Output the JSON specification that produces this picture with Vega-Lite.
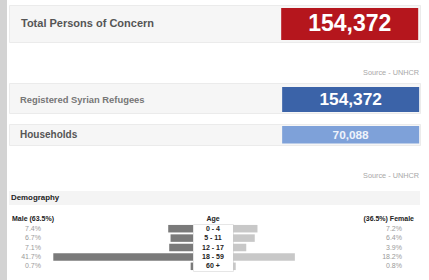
{
  "$schema": "https://vega.github.io/schema/vega-lite/v6.json",
  "background": "white",
  "padding": 0,
  "spacing": 2,
  "bounds": "flush",
  "config": {"view": {"stroke": null}, "font": "Liberation Sans", "text": {"font": "Liberation Sans"}},
  "datasets": {
    "kpi": [
      {"metric": "Total Persons of Concern", "value": 154372},
      {"metric": "Registered Syrian Refugees", "value": 154372},
      {"metric": "Households", "value": 70088}
    ],
    "source": [{"label": "Source - UNHCR"}],
    "section": [{"label": "Demography"}],
    "column": [{"label": "Age"}],
    "totals": [{"sex": "Male", "share": 0.635}, {"sex": "Female", "share": 0.365}],
    "demography": [
      {"age": "0 - 4", "sex": "Male", "share": 0.074},
      {"age": "5 - 11", "sex": "Male", "share": 0.067},
      {"age": "12 - 17", "sex": "Male", "share": 0.071},
      {"age": "18 - 59", "sex": "Male", "share": 0.417},
      {"age": "60 +", "sex": "Male", "share": 0.007},
      {"age": "0 - 4", "sex": "Female", "share": 0.072},
      {"age": "5 - 11", "sex": "Female", "share": 0.064},
      {"age": "12 - 17", "sex": "Female", "share": 0.039},
      {"age": "18 - 59", "sex": "Female", "share": 0.182},
      {"age": "60 +", "sex": "Female", "share": 0.008}
    ]
  },
  "hconcat": [
    {"width": 7, "height": 280, "view": {"fill": "#d3d3d3"}, "data": {"values": []}, "mark": "point"},
    {
      "spacing": 0,
      "bounds": "flush",
      "vconcat": [
        {"width": 1, "height": 5, "data": {"values": []}, "mark": "point"},
        {
          "width": 411, "height": 37,
          "data": {"name": "kpi"},
          "transform": [{"filter": "datum.metric == 'Total Persons of Concern'"}],
          "view": {"fill": "#f6f6f6", "stroke": "#ebebeb"},
          "layer": [
            {"mark": {"type": "rect", "color": "#b5161d"},
             "encoding": {
               "x": {"field": "metric", "type": "nominal", "axis": null, "scale": {"type": "band", "paddingInner": 0, "paddingOuter": 1.3853, "align": 0.9934}},
               "y": {"field": "metric", "type": "nominal", "axis": null, "scale": {"type": "band", "paddingInner": 0, "paddingOuter": 0.078, "align": 0.6}}}},
            {"mark": {"type": "text", "color": "#ffffff", "fontSize": 23, "fontWeight": "bold"},
             "encoding": {
               "x": {"field": "metric", "type": "nominal", "axis": null, "scale": {"type": "band", "paddingInner": 0, "paddingOuter": 1.3853, "align": 0.9934}},
               "y": {"field": "metric", "type": "nominal", "axis": null, "scale": {"type": "band", "paddingInner": 0, "paddingOuter": 0.078, "align": 0.6}},
               "text": {"field": "value", "type": "quantitative", "format": ","}}},
            {"mark": {"type": "text", "align": "left", "dx": 12, "fontSize": 11, "fontWeight": "bold", "color": "#555555"},
             "encoding": {
               "x": {"field": "metric", "type": "nominal", "axis": null, "scale": {"type": "point", "padding": 0, "align": 0}},
               "y": {"field": "metric", "type": "nominal", "axis": null, "scale": {"type": "band", "paddingInner": 0, "paddingOuter": 0.078, "align": 0.6}},
               "text": {"field": "metric"}}}
          ],
          "resolve": {"scale": {"x": "independent"}}
        },
        {"width": 1, "height": 21, "data": {"values": []}, "mark": "point"},
        {
          "width": 411, "height": 20,
          "data": {"name": "source"},
          "mark": {"type": "text", "align": "right", "dx": -1, "fontSize": 7.3, "color": "#a8a8a8"},
          "encoding": {
            "x": {"field": "label", "type": "nominal", "axis": null, "scale": {"type": "point", "padding": 0, "align": 1}},
            "text": {"field": "label"}}
        },
        {
          "width": 411, "height": 30,
          "data": {"name": "kpi"},
          "transform": [{"filter": "datum.metric == 'Registered Syrian Refugees'"}],
          "view": {"fill": "#f6f6f6", "stroke": "#ebebeb"},
          "layer": [
            {"mark": {"type": "rect", "color": "#3b63a8"},
             "encoding": {
               "x": {"field": "metric", "type": "nominal", "axis": null, "scale": {"type": "band", "paddingInner": 0, "paddingOuter": 1.835, "align": 0.9969}},
               "y": {"field": "metric", "type": "nominal", "axis": null, "scale": {"type": "band", "paddingInner": 0, "paddingOuter": 0.1, "align": 0.8}}}},
            {"mark": {"type": "text", "color": "#ffffff", "fontSize": 17.3, "fontWeight": "bold"},
             "encoding": {
               "x": {"field": "metric", "type": "nominal", "axis": null, "scale": {"type": "band", "paddingInner": 0, "paddingOuter": 1.835, "align": 0.9969}},
               "y": {"field": "metric", "type": "nominal", "axis": null, "scale": {"type": "band", "paddingInner": 0, "paddingOuter": 0.1, "align": 0.8}},
               "text": {"field": "value", "type": "quantitative", "format": ","}}},
            {"mark": {"type": "text", "align": "left", "dx": 11, "fontSize": 9.4, "fontWeight": "bold", "color": "#777777"},
             "encoding": {
               "x": {"field": "metric", "type": "nominal", "axis": null, "scale": {"type": "point", "padding": 0, "align": 0}},
               "y": {"field": "metric", "type": "nominal", "axis": null, "scale": {"type": "band", "paddingInner": 0, "paddingOuter": 0.1, "align": 0.8}},
               "text": {"field": "metric"}}}
          ],
          "resolve": {"scale": {"x": "independent"}}
        },
        {"width": 1, "height": 11, "data": {"values": []}, "mark": "point"},
        {
          "width": 411, "height": 21,
          "data": {"name": "kpi"},
          "transform": [{"filter": "datum.metric == 'Households'"}],
          "view": {"fill": "#f6f6f6", "stroke": "#ebebeb"},
          "layer": [
            {"mark": {"type": "rect", "color": "#7ea1d9"},
             "encoding": {
               "x": {"field": "metric", "type": "nominal", "axis": null, "scale": {"type": "band", "paddingInner": 0, "paddingOuter": 1.835, "align": 0.9969}},
               "y": {"field": "metric", "type": "nominal", "axis": null, "scale": {"type": "band", "paddingInner": 0, "paddingOuter": 0.1, "align": 0.57}}}},
            {"mark": {"type": "text", "color": "#eef3fb", "fontSize": 11.8, "fontWeight": "bold"},
             "encoding": {
               "x": {"field": "metric", "type": "nominal", "axis": null, "scale": {"type": "band", "paddingInner": 0, "paddingOuter": 1.835, "align": 0.9969}},
               "y": {"field": "metric", "type": "nominal", "axis": null, "scale": {"type": "band", "paddingInner": 0, "paddingOuter": 0.1, "align": 0.57}},
               "text": {"field": "value", "type": "quantitative", "format": ","}}},
            {"mark": {"type": "text", "align": "left", "dx": 11, "fontSize": 10, "fontWeight": "bold", "color": "#555555"},
             "encoding": {
               "x": {"field": "metric", "type": "nominal", "axis": null, "scale": {"type": "point", "padding": 0, "align": 0}},
               "y": {"field": "metric", "type": "nominal", "axis": null, "scale": {"type": "band", "paddingInner": 0, "paddingOuter": 0.1, "align": 0.57}},
               "text": {"field": "metric"}}}
          ],
          "resolve": {"scale": {"x": "independent"}}
        },
        {"width": 1, "height": 22, "data": {"values": []}, "mark": "point"},
        {
          "width": 411, "height": 18,
          "data": {"name": "source"},
          "mark": {"type": "text", "align": "right", "dx": -1, "fontSize": 7.3, "color": "#a8a8a8"},
          "encoding": {
            "x": {"field": "label", "type": "nominal", "axis": null, "scale": {"type": "point", "padding": 0, "align": 1}},
            "text": {"field": "label"}}
        },
        {"width": 1, "height": 6, "data": {"values": []}, "mark": "point"},
        {
          "width": 411, "height": 14,
          "data": {"name": "section"},
          "view": {"fill": "#f4f4f4"},
          "mark": {"type": "text", "align": "left", "dx": 2, "fontSize": 7.9, "fontWeight": "bold", "color": "#222222"},
          "encoding": {
            "x": {"field": "label", "type": "nominal", "axis": null, "scale": {"type": "point", "padding": 0, "align": 0}},
            "text": {"field": "label"}}
        },
        {"width": 1, "height": 9, "data": {"values": []}, "mark": "point"},
        {
          "width": 405, "height": 10,
          "layer": [
            {"data": {"name": "totals"},
             "transform": [{"filter": "datum.sex == 'Male'"}, {"calculate": "datum.sex + ' (' + format(datum.share, '.1%') + ')'", "as": "label"}],
             "mark": {"type": "text", "align": "left", "dx": 3, "fontSize": 7, "fontWeight": "bold", "color": "#222222"},
             "encoding": {
               "x": {"field": "sex", "type": "nominal", "axis": null, "scale": {"type": "point", "padding": 0, "domain": ["Male", "Female"]}},
               "text": {"field": "label"}}},
            {"data": {"name": "totals"},
             "transform": [{"filter": "datum.sex == 'Female'"}, {"calculate": "'(' + format(datum.share, '.1%') + ') ' + datum.sex", "as": "label"}],
             "mark": {"type": "text", "align": "right", "fontSize": 7, "fontWeight": "bold", "color": "#222222"},
             "encoding": {
               "x": {"field": "sex", "type": "nominal", "axis": null, "scale": {"type": "point", "padding": 0, "domain": ["Male", "Female"]}},
               "text": {"field": "label"}}},
            {"data": {"name": "column"},
             "mark": {"type": "text", "dx": 1.5, "fontSize": 7, "fontWeight": "bold", "color": "#222222"},
             "encoding": {"text": {"field": "label"}}}
          ]
        },
        {
          "spacing": 0,
          "bounds": "flush",
          "hconcat": [
            {
              "width": 32, "height": 47,
              "data": {"name": "demography"},
              "transform": [{"filter": "datum.sex == 'Male'"}],
              "mark": {"type": "text", "align": "right", "fontSize": 7, "color": "#9a9a9a"},
              "encoding": {
                "x": {"field": "sex", "type": "nominal", "axis": null, "scale": {"type": "point", "padding": 0, "align": 1}},
                "y": {"field": "age", "type": "nominal", "axis": null, "sort": ["0 - 4", "5 - 11", "12 - 17", "18 - 59", "60 +"], "scale": {"type": "band", "paddingInner": 0.2, "paddingOuter": 0.1}},
                "text": {"field": "share", "type": "quantitative", "format": ".1%"}}
            },
            {
              "width": 152, "height": 47,
              "data": {"name": "demography"},
              "transform": [{"filter": "datum.sex == 'Male'"}],
              "mark": {"type": "bar", "color": "#7a7a7a"},
              "encoding": {
                "x": {"field": "share", "type": "quantitative", "axis": null, "scale": {"domain": [0, 0.4537], "reverse": true, "nice": false}},
                "y": {"field": "age", "type": "nominal", "axis": null, "sort": ["0 - 4", "5 - 11", "12 - 17", "18 - 59", "60 +"], "scale": {"type": "band", "paddingInner": 0.2, "paddingOuter": 0.1}}}
            },
            {
              "width": 40, "height": 47,
              "data": {"name": "demography"},
              "transform": [{"filter": "datum.sex == 'Male'"}],
              "view": {"fill": "#ffffff", "stroke": "#e6e6e6"},
              "mark": {"type": "text", "fontSize": 7, "fontWeight": "bold", "color": "#222222"},
              "encoding": {
                "y": {"field": "age", "type": "nominal", "axis": null, "sort": ["0 - 4", "5 - 11", "12 - 17", "18 - 59", "60 +"], "scale": {"type": "band", "paddingInner": 0.2, "paddingOuter": 0.1}},
                "text": {"field": "age"}}
            },
            {
              "width": 147, "height": 47,
              "data": {"name": "demography"},
              "transform": [{"filter": "datum.sex == 'Female'"}],
              "mark": {"type": "bar", "color": "#c8c8c8"},
              "encoding": {
                "x": {"field": "share", "type": "quantitative", "axis": null, "scale": {"domain": [0, 0.4324], "nice": false}},
                "y": {"field": "age", "type": "nominal", "axis": null, "sort": ["0 - 4", "5 - 11", "12 - 17", "18 - 59", "60 +"], "scale": {"type": "band", "paddingInner": 0.2, "paddingOuter": 0.1}}}
            },
            {
              "width": 22, "height": 47,
              "data": {"name": "demography"},
              "transform": [{"filter": "datum.sex == 'Female'"}],
              "mark": {"type": "text", "align": "right", "fontSize": 7, "color": "#9a9a9a"},
              "encoding": {
                "x": {"field": "sex", "type": "nominal", "axis": null, "scale": {"type": "point", "padding": 0, "align": 1}},
                "y": {"field": "age", "type": "nominal", "axis": null, "sort": ["0 - 4", "5 - 11", "12 - 17", "18 - 59", "60 +"], "scale": {"type": "band", "paddingInner": 0.2, "paddingOuter": 0.1}},
                "text": {"field": "share", "type": "quantitative", "format": ".1%"}}
            }
          ]
        }
      ]
    }
  ]
}
